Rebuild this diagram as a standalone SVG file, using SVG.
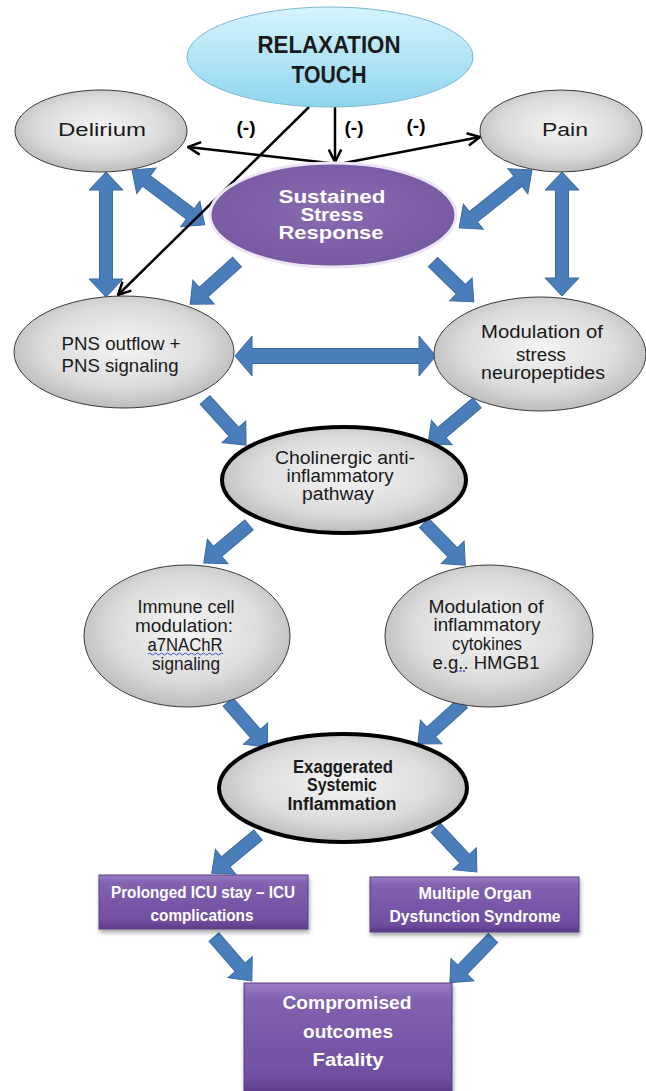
<svg xmlns="http://www.w3.org/2000/svg" width="646" height="1091" viewBox="0 0 646 1091">
<style>
text{font-family:"Liberation Sans",Arial,sans-serif;text-anchor:middle}
.g{fill:url(#gray);stroke:#3a3a3a;stroke-width:1}
.thick{fill:url(#gray);stroke:#000;stroke-width:4}
.t{font-size:18px;fill:#1a1a1a}
.tb{font-size:18px;fill:#1a1a1a;font-weight:bold}
.w{fill:#fff;font-weight:bold}
.box{fill:url(#purp);stroke:#5a3c85;stroke-width:1;filter:url(#sh)}
.ba{fill:#4a7ebb;stroke:#3a6aa3;stroke-width:1}
.bl{stroke:#000;stroke-width:2.5;fill:none;marker-end:url(#ah)}
.m{font-size:19px;font-weight:bold;fill:#000}
</style>
<defs>
<radialGradient id="gray" cx="50%" cy="45%" r="60%"><stop offset="0" stop-color="#f4f4f4"/><stop offset="0.6" stop-color="#dcdcdc"/><stop offset="1" stop-color="#b4b4b4"/></radialGradient>
<linearGradient id="blue" x1="0" y1="0" x2="0" y2="1"><stop offset="0" stop-color="#d6f4fd"/><stop offset="1" stop-color="#8fd5ef"/></linearGradient>
<radialGradient id="ssr" cx="50%" cy="45%" r="60%"><stop offset="0" stop-color="#8a6bb2"/><stop offset="1" stop-color="#7558a0"/></radialGradient>
<linearGradient id="purp" x1="0" y1="0" x2="0" y2="1"><stop offset="0" stop-color="#9a7cc4"/><stop offset="0.15" stop-color="#8262b0"/><stop offset="0.85" stop-color="#704ea0"/><stop offset="1" stop-color="#5b3c87"/></linearGradient>
<filter id="sh" x="-10%" y="-10%" width="130%" height="140%"><feDropShadow dx="1" dy="3" stdDeviation="2" flood-color="#000" flood-opacity="0.35"/></filter>
<marker id="ah" viewBox="0 0 12 12" refX="11" refY="6" markerWidth="6" markerHeight="6" orient="auto" markerUnits="strokeWidth"><path d="M1,1 L11,6 L1,11" fill="none" stroke="#000" stroke-width="2"/></marker>
</defs>
<g id="connectors">
<path class="ba" transform="translate(106,172) rotate(90)" d="M0,0 L18,-17 V-6.5 H107 V-17 L125,0 L107,17 V6.5 H18 V17 Z"/>
<path class="ba" transform="translate(132,170) rotate(37)" d="M0,0 L18,-16 V-6.5 H73 V-16 L91,0 L73,16 V6.5 H18 V16 Z"/>
<path class="ba" transform="translate(532,170) rotate(141.5)" d="M0,0 L18,-16 V-6.5 H75 V-16 L93,0 L75,16 V6.5 H18 V16 Z"/>
<path class="ba" transform="translate(562,172) rotate(90)" d="M0,0 L18,-17 V-6.5 H106 V-17 L124,0 L106,17 V6.5 H18 V17 Z"/>
<path class="ba" transform="translate(237,262) rotate(138)" d="M0,-6.5 H45 V-16 L63,0 L45,16 V6.5 H0 Z"/>
<path class="ba" transform="translate(433,262) rotate(44.3)" d="M0,-6.5 H39 V-16 L57,0 L39,16 V6.5 H0 Z"/>
<path class="ba" transform="translate(235,356)" d="M0,0 L17,-20 V-7.5 H184 V-20 L201,0 L184,20 V7.5 H17 V20 Z"/>
<path class="ba" transform="translate(205,400) rotate(47.7)" d="M0,-6.5 H43 V-16 L61,0 L43,16 V6.5 H0 Z"/>
<path class="ba" transform="translate(477,403) rotate(140)" d="M0,-6.5 H46 V-16 L64,0 L46,16 V6.5 H0 Z"/>
<path class="ba" transform="translate(249,525) rotate(140)" d="M0,-6.5 H41 V-16 L59,0 L41,16 V6.5 H0 Z"/>
<path class="ba" transform="translate(424,523) rotate(45.6)" d="M0,-6.5 H41 V-16 L59,0 L41,16 V6.5 H0 Z"/>
<path class="ba" transform="translate(228,702) rotate(49)" d="M0,-6.5 H42 V-16 L60,0 L42,16 V6.5 H0 Z"/>
<path class="ba" transform="translate(463,703) rotate(137.7)" d="M0,-6.5 H43 V-16 L61,0 L43,16 V6.5 H0 Z"/>
<path class="ba" transform="translate(258,835) rotate(140.4)" d="M0,-6.5 H42 V-16 L60,0 L42,16 V6.5 H0 Z"/>
<path class="ba" transform="translate(436,828) rotate(47)" d="M0,-6.5 H42 V-16 L60,0 L42,16 V6.5 H0 Z"/>
<path class="ba" transform="translate(214,937) rotate(49.2)" d="M0,-6.5 H40 V-16 L58,0 L40,16 V6.5 H0 Z"/>
<path class="ba" transform="translate(493,938) rotate(134)" d="M0,-6.5 H44 V-16 L62,0 L44,16 V6.5 H0 Z"/>
<line class="bl" x1="335" y1="107" x2="335" y2="162"/>
<line class="bl" x1="329" y1="163" x2="188" y2="147"/>
<line class="bl" x1="344" y1="163" x2="480" y2="137"/>
<line class="bl" x1="309" y1="107" x2="118" y2="295"/>
<text class="m" x="246" y="134">(-)</text>
<text class="m" x="354" y="134">(-)</text>
<text class="m" x="416" y="132">(-)</text>
</g>
<g id="relaxation">
<ellipse cx="330" cy="57" rx="143" ry="50" fill="url(#blue)" stroke="#7cb8d4" stroke-width="1"/>
<text x="329" y="53" font-size="24" font-weight="bold" fill="#1a1a1a" textLength="143" lengthAdjust="spacingAndGlyphs">RELAXATION</text>
<text x="329" y="83" font-size="24" font-weight="bold" fill="#1a1a1a" textLength="75" lengthAdjust="spacingAndGlyphs">TOUCH</text>
</g>
<g id="delirium">
<ellipse class="g" cx="101" cy="131" rx="86" ry="41"/>
<text class="t" x="102" y="136" font-size="21" textLength="88" lengthAdjust="spacingAndGlyphs">Delirium</text>
</g>
<g id="pain">
<ellipse class="g" cx="561" cy="131" rx="81" ry="41"/>
<text class="t" x="565" y="136" font-size="21" textLength="46" lengthAdjust="spacingAndGlyphs">Pain</text>
</g>
<g id="stress">
<ellipse cx="333" cy="215" rx="123" ry="52" fill="url(#ssr)" stroke="#ece6f4" stroke-width="3"/>
<text class="w" x="332" y="203" font-size="18" textLength="107" lengthAdjust="spacingAndGlyphs">Sustained</text>
<text class="w" x="332" y="221" font-size="18" textLength="63" lengthAdjust="spacingAndGlyphs">Stress</text>
<text class="w" x="331" y="239" font-size="18" textLength="105" lengthAdjust="spacingAndGlyphs">Response</text>
</g>
<g id="pns">
<ellipse class="g" cx="124" cy="352" rx="110" ry="56"/>
<text class="t" x="121" y="350" font-size="20" textLength="119" lengthAdjust="spacingAndGlyphs">PNS outflow +</text>
<text class="t" x="120" y="372" font-size="20" textLength="117" lengthAdjust="spacingAndGlyphs">PNS signaling</text>
</g>
<g id="neuropeptides">
<ellipse class="g" cx="540" cy="354" rx="106" ry="57"/>
<text class="t" x="542" y="338" font-size="20" textLength="122" lengthAdjust="spacingAndGlyphs">Modulation of</text>
<text class="t" x="541" y="361" font-size="20" textLength="50" lengthAdjust="spacingAndGlyphs">stress</text>
<text class="t" x="543" y="379" font-size="20" textLength="124" lengthAdjust="spacingAndGlyphs">neuropeptides</text>
</g>
<g id="cholinergic">
<ellipse class="thick" cx="344" cy="480" rx="122" ry="53"/>
<text class="t" x="345" y="464" font-size="17" textLength="140" lengthAdjust="spacingAndGlyphs">Cholinergic anti-</text>
<text class="t" x="340" y="482" font-size="17" textLength="107" lengthAdjust="spacingAndGlyphs">inflammatory</text>
<text class="t" x="338" y="500" font-size="17" textLength="72" lengthAdjust="spacingAndGlyphs">pathway</text>
</g>
<g id="immune">
<ellipse class="g" cx="187" cy="636" rx="103" ry="71"/>
<text class="t" x="186" y="613" font-size="17" textLength="97" lengthAdjust="spacingAndGlyphs">Immune cell</text>
<text class="t" x="184" y="632" font-size="17" textLength="98" lengthAdjust="spacingAndGlyphs">modulation:</text>
<text class="t" x="185" y="651" font-size="17" textLength="75" lengthAdjust="spacingAndGlyphs">a7NAChR</text>
<path d="M148,654 q1.5,-2 3,0 t3,0 t3,0 t3,0 t3,0 t3,0 t3,0 t3,0 t3,0 t3,0 t3,0 t3,0 t3,0 t3,0 t3,0 t3,0 t3,0 t3,0 t3,0 t3,0 t3,0 t3,0 t3,0 t3,0 t3,0" fill="none" stroke="#3a4fd0" stroke-width="1"/>
<text class="t" x="186" y="670" font-size="17" textLength="68" lengthAdjust="spacingAndGlyphs">signaling</text>
</g>
<g id="cytokines">
<ellipse class="g" cx="489" cy="636" rx="104" ry="71"/>
<text class="t" x="486" y="613" font-size="17" textLength="115" lengthAdjust="spacingAndGlyphs">Modulation of</text>
<text class="t" x="487" y="631" font-size="17" textLength="107" lengthAdjust="spacingAndGlyphs">inflammatory</text>
<text class="t" x="487" y="650" font-size="17" textLength="70" lengthAdjust="spacingAndGlyphs">cytokines</text>
<text class="t" x="486" y="669" font-size="17" textLength="107" lengthAdjust="spacingAndGlyphs">e.g.. HMGB1</text>
<path d="M456,671 h10" fill="none" stroke="#3a4fd0" stroke-width="1.5" stroke-dasharray="2,1.5"/>
</g>
<g id="exaggerated">
<ellipse class="thick" cx="343" cy="788" rx="124" ry="54"/>
<text class="tb" x="343" y="773" textLength="100" lengthAdjust="spacingAndGlyphs">Exaggerated</text>
<text class="tb" x="342" y="791" textLength="70" lengthAdjust="spacingAndGlyphs">Systemic</text>
<text class="tb" x="342" y="810" textLength="109" lengthAdjust="spacingAndGlyphs">Inflammation</text>
</g>
<g id="icu">
<rect class="box" x="99" y="875" width="209" height="54"/>
<text class="w" x="203" y="898" font-size="16" textLength="184" lengthAdjust="spacingAndGlyphs">Prolonged ICU stay – ICU</text>
<text class="w" x="202" y="921" font-size="16" textLength="103" lengthAdjust="spacingAndGlyphs">complications</text>
</g>
<g id="mods">
<rect class="box" x="370" y="877" width="209" height="55"/>
<text class="w" x="475" y="899" font-size="16" textLength="113" lengthAdjust="spacingAndGlyphs">Multiple Organ</text>
<text class="w" x="475" y="922" font-size="16" textLength="171" lengthAdjust="spacingAndGlyphs">Dysfunction Syndrome</text>
</g>
<g id="outcomes">
<rect class="box" x="244" y="983" width="208" height="112"/>
<text class="w" x="347" y="1009" font-size="19" textLength="129" lengthAdjust="spacingAndGlyphs">Compromised</text>
<text class="w" x="348" y="1038" font-size="19" textLength="90" lengthAdjust="spacingAndGlyphs">outcomes</text>
<text class="w" x="348" y="1066" font-size="19" textLength="71" lengthAdjust="spacingAndGlyphs">Fatality</text>
</g>
</svg>
